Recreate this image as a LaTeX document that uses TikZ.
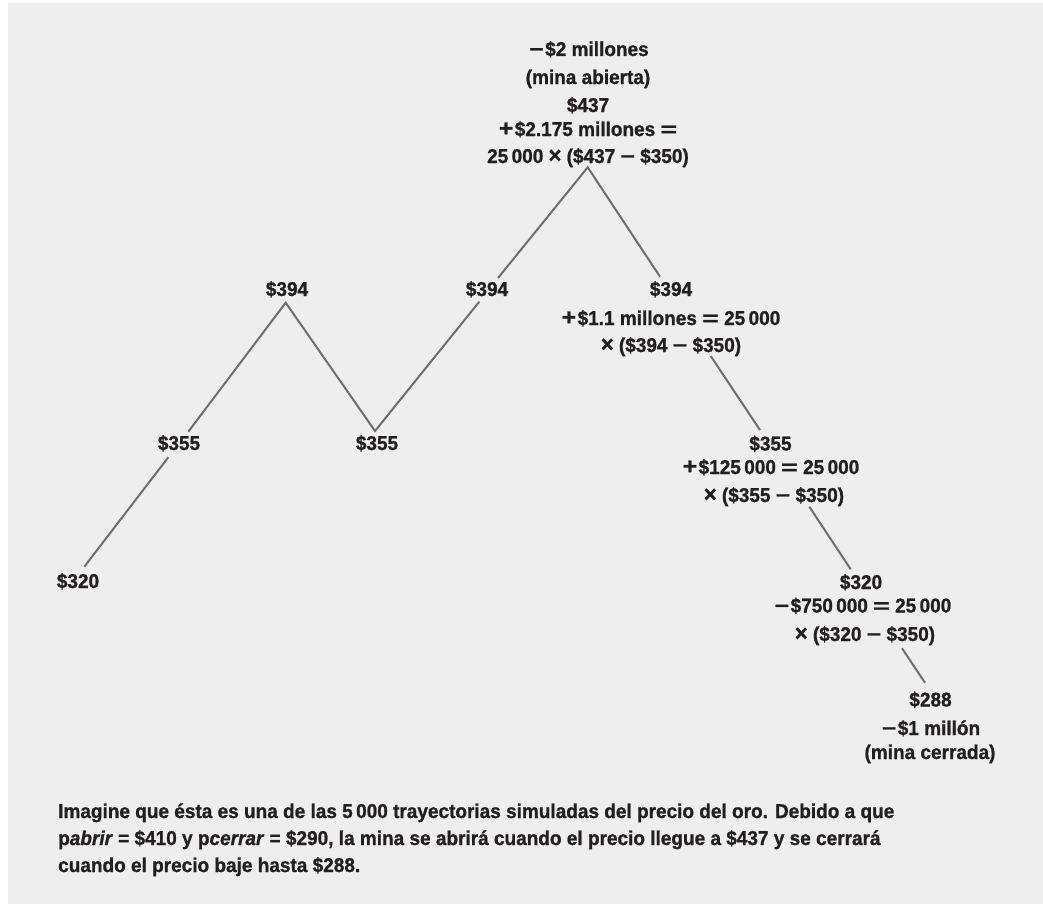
\documentclass[tikz,border=0pt]{standalone}
\usepackage{fontspec}
\usepackage{graphicx}
\setmainfont{Liberation Sans}[FakeStretch=0.95, BoldFeatures={FakeBold=1}, BoldItalicFeatures={FakeBold=1}]
\definecolor{bg}{HTML}{EEEEEE}
\definecolor{linegray}{HTML}{6E6E6E}
\definecolor{ink}{HTML}{231F20}
\newcommand\myeq{\scalebox{1.5}[1]{=}}
\newcommand\myplus{\scalebox{1.3}[1.15]{+}\kern1.5pt}
\newcommand\myminus{\scalebox{1.3}[1]{−}\kern1.5pt}
\newcommand\mymin{\scalebox{1.3}[1]{−}}
\newcommand\mytimes{\scalebox{1.15}{×}}
\tikzset{
  lab/.style={anchor=base, inner sep=0pt, text=ink, font=\fontsize{20}{27}\selectfont\bfseries},
  captext/.style={anchor=base west, inner sep=0pt, text=ink, font=\fontsize{20}{27}\selectfont\bfseries},
  seg/.style={draw=linegray, line width=2pt}
}
\begin{document}
\begin{tikzpicture}[x=1pt,y=-1pt]
\useasboundingbox (0,0) rectangle (1043,907);
\fill[white] (0,0) rectangle (1043,907);
\fill[bg] (8,3) rectangle (1043,904);

% top group
\node[lab] (t1) at (589,56) {\myminus\$2 millones};
\node[lab] (t2) at (588,84) {(mina abierta)};
\node[lab] (t3) at (588,112) {\$437};
\node[lab] (t4) at (588,136) {\myplus\$2.175 millones \myeq};
\node[lab] (t5) at (588,163) {25\,000 \mytimes{} (\$437 \mymin{} \$350)};

% left path labels
\node[lab] (p320) at (78,588) {\$320};
\node[lab] (p355a) at (179,450) {\$355};
\node[lab] (p394a) at (287,296) {\$394};
\node[lab] (p355b) at (377,450) {\$355};
\node[lab] (p394b) at (487,296) {\$394};

% right descending labels
\node[lab] (r394) at (671,296) {\$394};
\node[lab] (r394a) at (671,325) {\myplus\$1.1 millones \myeq{} 25\,000};
\node[lab] (r394b) at (671,352) {\mytimes{} (\$394 \mymin{} \$350)};
\node[lab] (r355) at (770.5,450.5) {\$355};
\node[lab] (r355a) at (771,474) {\myplus\$125\,000 \myeq{} 25\,000};
\node[lab] (r355b) at (774,502) {\mytimes{} (\$355 \mymin{} \$350)};
\node[lab] (r320) at (861,589) {\$320};
\node[lab] (r320a) at (863,612.5) {\myminus\$750\,000 \myeq{} 25\,000};
\node[lab] (r320b) at (865,641) {\mytimes{} (\$320 \mymin{} \$350)};
\node[lab] (r288) at (930.5,706.5) {\$288};
\node[lab] (r288a) at (931,735) {\myminus\$1 millón};
\node[lab] (r288b) at (930,759) {(mina cerrada)};

% caption
\node[captext] (c1) at (58,818) {Imagine que ésta es una de las 5\,000 trayectorias simuladas del precio del oro. Debido a que};
\node[captext] (c2) at (58,845) {p\textit{abrir} = \$410 y p\textit{cerrar} = \$290, la mina se abrirá cuando el precio llegue a \$437 y se cerrará};
\node[captext] (c3) at (58,872) {cuando el precio baje hasta \$288.};

% path vertices
\coordinate (v1) at (84.3,566.7);
\coordinate (v2) at (168.3,457.3);
\coordinate (v3) at (188.3,431.7);
\coordinate (v4) at (285.7,302.7);
\coordinate (v5) at (375,431);
\coordinate (v6) at (479.3,301.7);
\coordinate (v7) at (498,278);
\coordinate (peak) at (587.7,167.3);
\coordinate (v8) at (660,276.7);
\coordinate (v9) at (710.7,356);
\coordinate (v10) at (760,430);
\coordinate (v11) at (809.3,506.7);
\coordinate (v12) at (850.7,569.3);
\coordinate (v13) at (902,648.3);
\coordinate (v14) at (925,682.7);

\draw[seg] (v1) -- (v2);
\draw[seg] (v3) -- (v4) -- (v5) -- (v6);
\draw[seg] (v7) -- (peak) -- (v8);
\draw[seg] (v9) -- (v10);
\draw[seg] (v11) -- (v12);
\draw[seg] (v13) -- (v14);
\end{tikzpicture}
\end{document}
